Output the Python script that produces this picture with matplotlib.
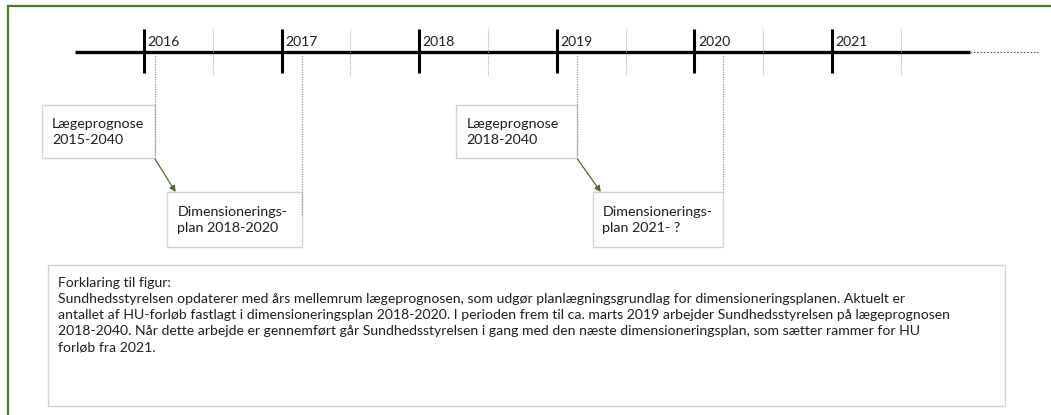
import matplotlib.pyplot as plt
from matplotlib.patches import Rectangle, FancyArrowPatch

# timeline data
years = [2016, 2017, 2018, 2019, 2020, 2021]
year_labels = ['2016', '2017', '2018', '2019', '2020', '2021']
half_years = [2016.5, 2017.5, 2018.5, 2019.5, 2020.5, 2021.5]
axis_start, axis_end, axis_fade = 2015.5, 2022.0, 2022.5

# milestones: text, year they hang from, row
event_labels = ['Lægeprognose\n2015-2040', 'Dimensionerings-\nplan 2018-2020',
                'Lægeprognose\n2018-2040', 'Dimensionerings-\nplan 2021- ?']
event_years = [2016.08, 2017.15, 2019.15, 2020.21]
event_rows = ['top', 'low', 'top', 'low']
arrows = [(0, 1), (2, 3)]   # prognose -> plan

note_lines = [
    'Forklaring til figur:',
    'Sundhedsstyrelsen opdaterer med års mellemrum lægeprognosen, som udgør planlægningsgrundlag for dimensioneringsplanen. Aktuelt er',
    'antallet af HU-forløb fastlagt i dimensioneringsplan 2018-2020. I perioden frem til ca. marts 2019 arbejder Sundhedsstyrelsen på lægeprognosen',
    '2018-2040. Når dette arbejde er gennemført går Sundhedsstyrelsen i gang med den næste dimensioneringsplan, som sætter rammer for HU',
    'forløb fra 2021.',
]

## layout (pixels / years per pixel)
W, H = 1051, 415
x0_px, px_per_year = 144, 137.6
box_w = [0.82, 0.98, 0.88, 0.95]
row_y = {'top': (105, 158), 'low': (192, 247)}
line_end = [155, 215, 155, 192]

plt.rcParams['font.family'] = ['Lato', 'DejaVu Sans']
GREEN = '#4e7a2e'
TXT = '#1e1e1e'

fig = plt.figure(figsize=(W / 100, H / 100), dpi=100)
ax = fig.add_axes([0, 0, 1, 1])
ax.set_xlim(2016 - x0_px / px_per_year, 2016 + (W - x0_px) / px_per_year)
ax.set_ylim(H, 0)
ax.axis('off')

# outer green frame (left + top edges visible)
fig.add_artist(plt.Line2D([7.5 / W, 7.5 / W], [0, 1 - 6.5 / H], color=GREEN, lw=1.6))
fig.add_artist(plt.Line2D([7.5 / W, 1], [1 - 6.5 / H, 1 - 6.5 / H], color=GREEN, lw=1.6))

# main axis
ax.plot([axis_start, axis_end], [52, 52], color='black', lw=2.4, solid_capstyle='butt')
ax.plot([axis_end, axis_fade], [52, 52], color='#555555', lw=0.8, ls=(0, (1.5, 1.5)))
for y, lab in zip(years, year_labels):
    ax.plot([y, y], [29, 73], color='black', lw=2.2, solid_capstyle='butt')
    ax.text(y + 0.025, 42, lab, fontsize=10, color=TXT, va='center', ha='left')
for y in half_years:
    ax.plot([y, y], [29, 75], color='#b0b0b0', lw=0.8, ls=(0, (1, 1)))

# milestone boxes
for i, (lab, yr, row) in enumerate(zip(event_labels, event_years, event_rows)):
    top, bot = row_y[row]
    ax.add_patch(Rectangle((yr - box_w[i], top), box_w[i], bot - top,
                           facecolor='white', edgecolor='#d4d4d4', lw=1.0, zorder=2))
    ax.plot([yr, yr], [56, line_end[i]], color='#8aa07a', lw=0.9, ls=(0, (1, 1)), zorder=3)
    ax.text(yr - box_w[i] + 0.072, (top + bot) / 2, lab, fontsize=10.3, color=TXT,
            va='center', ha='left', linespacing=1.4, zorder=4)

for a, b in arrows:
    start = (event_years[a], row_y[event_rows[a]][1] + 1)
    end = (event_years[b] - box_w[b] + 0.06, row_y[event_rows[b]][0])
    ax.add_patch(FancyArrowPatch(start, end, arrowstyle='-|>', mutation_scale=9,
                                 color='#4f6b2f', lw=0.9, shrinkA=0, shrinkB=0, zorder=5))

# explanation box
bx0 = 2016 + (48 - x0_px) / px_per_year
bx1 = 2016 + (1005 - x0_px) / px_per_year
ax.add_patch(Rectangle((bx0, 265), bx1 - bx0, 141, facecolor='white',
                       edgecolor='#d4d4d4', lw=1.0))
tx = 2016 + (58 - x0_px) / px_per_year
for k, line in enumerate(note_lines):
    ax.text(tx, 283 + k * 16.1, line, fontsize=10.1, color=TXT, va='center', ha='left')

fig.savefig('out.png', dpi=100)
